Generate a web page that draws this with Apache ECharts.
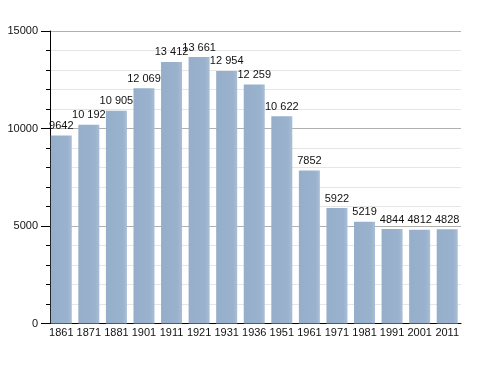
<!DOCTYPE html>
<html><head><meta charset="utf-8">
<script src="https://cdn.jsdelivr.net/npm/echarts@6/dist/echarts.min.js"></script>
<style>html,body{margin:0;padding:0;background:#fff}#c{width:488px;height:373px}</style>
</head><body><div id="c"></div>
<script>
const years = ['1861','1871','1881','1901','1911','1921','1931','1936','1951','1961','1971','1981','1991','2001','2011'];
const population = [9642,10192,10905,12069,13412,13661,12954,12259,10622,7852,5922,5219,4844,4812,4828];
const yTicks = [0,5000,10000,15000];

function fmt(v){ return v >= 10000 ? String(v).replace(/(\d)(?=(\d{3})+$)/g,'$1 ') : String(v); }

const chart = echarts.init(document.getElementById('c'), null, {renderer:'canvas'});
chart.setOption({
  animation:false,
  backgroundColor:'#fff',
  grid:{left:47.5, top:31, width:413.5, height:292.5, containLabel:false},
  xAxis:{type:'category', data:years,
    axisLine:{show:true, lineStyle:{color:'#000', width:1.2}},
    axisTick:{show:false},
    axisLabel:{interval:0, color:'#111', fontFamily:'Liberation Sans, Arial, sans-serif', fontSize:11, margin:4}
  },
  yAxis:{type:'value', min:yTicks[0], max:yTicks[yTicks.length-1], interval:5000, offset:-2.5,
    axisLine:{show:true, lineStyle:{color:'#000', width:1}},
    axisTick:{show:true, inside:false, length:9, lineStyle:{color:'#000'}},
    minorTick:{show:true, splitNumber:5, length:4, lineStyle:{color:'#000'}},
    splitLine:{show:true, lineStyle:{color:'#b0b0b0', width:1}},
    minorSplitLine:{show:true, lineStyle:{color:'#e6e6e6', width:1}},
    axisLabel:{color:'#111', fontFamily:'Liberation Sans, Arial, sans-serif', fontSize:11, margin:12,
      formatter:v=>String(v)}
  },
  series:[{
    type:'bar', data:population, barWidth:21,
    itemStyle:{color:new echarts.graphic.LinearGradient(0,0,1,0,[
      {offset:0,color:'#95aeca'},{offset:0.8,color:'#9ab2cd'},{offset:1,color:'#aabfd6'}])},
    label:{show:true, position:'top', distance:4, color:'#111', fontFamily:'Liberation Sans, Arial, sans-serif', fontSize:11,
      formatter:p=>fmt(p.value)}
  }]
});
</script></body></html>
